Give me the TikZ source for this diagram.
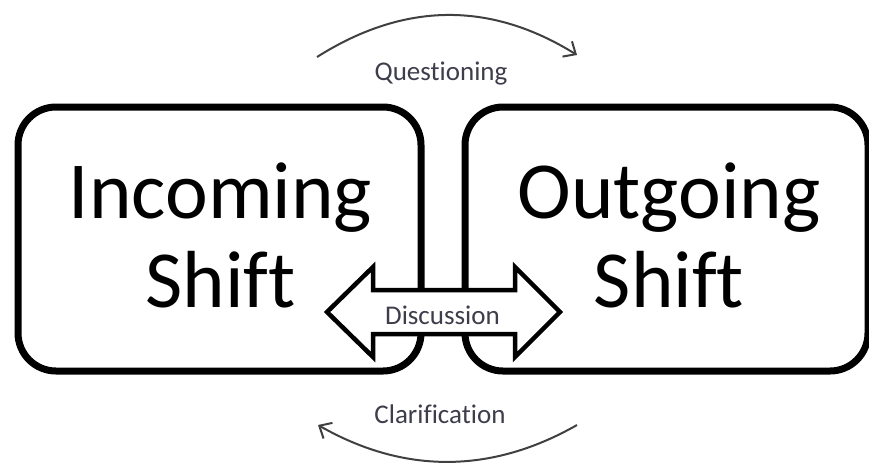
\documentclass[tikz,border=0pt]{standalone}
\usepackage{fontspec}
\setmainfont{Carlito}[Ligatures={NoCommon}]
\usetikzlibrary{arrows.meta}
\definecolor{lblc}{rgb}{0.24,0.24,0.30}
\definecolor{arcc}{rgb}{0.25,0.25,0.25}
\begin{document}
\begin{tikzpicture}[x=1pt,y=-1pt,
  box/.style={draw=black, line width=7pt, rounded corners=38pt, minimum width=403pt, minimum height=264pt, inner sep=0pt},
  big/.style={font=\fontsize{81}{89}\selectfont, text=black, inner sep=0pt, anchor=base},
  lbl/.style={font=\fontsize{27}{32}\selectfont, text=lblc, inner sep=0pt, anchor=base},
  flow/.style={draw=arcc, line width=2pt, -{Straight Barb[length=10pt,width=18pt]}},
  dblarrow/.style={draw=black, line width=4.5pt, fill=white, line join=miter}]
\useasboundingbox (0,0) rectangle (869,464);
% boxes
\node[box] (inc) at (219.5,239) {};
\node[box] (out) at (666.5,239) {};
% big labels
\node[big] (inc1) at (220.5,218) {Incoming};
\node[big] (inc2) at (220.5,307) {Shift};
\node[big] (out1) at (669,218) {Outgoing};
\node[big] (out2) at (669,307) {Shift};
% discussion double arrow
\draw[dblarrow] (327,312) -- (373,267) -- (373,290) -- (515,290) -- (515,267)
  -- (560,312) -- (515,357) -- (515,334) -- (373,334) -- (373,357) -- cycle;
\node[lbl] (disc) at (442.5,324) {Discussion};
% questioning arc
\coordinate (q1) at (317,57);
\coordinate (q2) at (577,55);
\draw[flow] (q1) .. controls (404,2) and (490,1) .. (q2);
\node[lbl] (ques) at (441,80) {Questioning};
% clarification arc
\coordinate (c1) at (577,425);
\coordinate (c2) at (318,425);
\draw[flow] (c1) .. controls (491,474) and (404,474) .. (c2);
\node[lbl] (clar) at (440,423) {Clarification};
\end{tikzpicture}
\end{document}
